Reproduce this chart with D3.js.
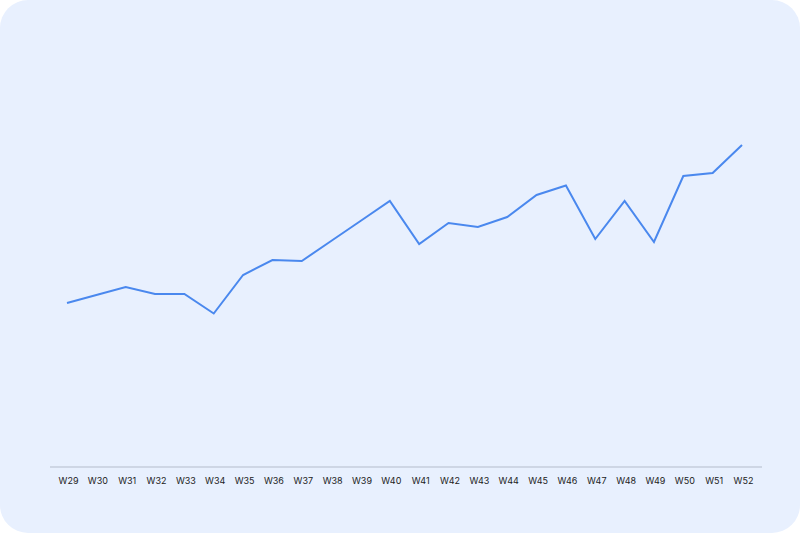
<!DOCTYPE html>
<html lang="en">
<head>
  <meta charset="utf-8">
  <title>weekly line</title>
  <style>
body {
  margin: 0;
  overflow: hidden;
  background-color: #fff;
  font-family: Inter, "Open Sans", sans-serif;
}
.tick text {
  font-size: 9px;
  fill: #222;
}
  </style>
  <script src="https://d3js.org/d3.v7.min.js" charset="utf-8"></script>
</head>
<body>
<section id="chart"></section>

<script>

var weeks = ['W29','W30','W31','W32','W33','W34','W35','W36','W37','W38','W39','W40',
             'W41','W42','W43','W44','W45','W46','W47','W48','W49','W50','W51','W52'];
var values = [82, 86, 90, 86.5, 86.5, 76.75, 96, 103.5, 103, 113, 123, 133,
              111.5, 122, 120, 125, 136, 140.75, 114, 133, 112.5, 145.5, 147, 161];

var w = 800;
var h = 533;

var svg = d3.select('#chart').append('svg')
  .attr('width', w)
  .attr('height', h);

// card background
svg.append('rect')
  .attr('x', 0)
  .attr('y', 0)
  .attr('width', w)
  .attr('height', h)
  .attr('rx', 28)
  .attr('fill', '#e8f0fe');

var x = d3.scalePoint()
  .domain(weeks)
  .range([67, 742]);

var y = d3.scaleLinear()
  .domain([0, 200])
  .range([467, 67]);

// baseline
svg.append('line')
  .attr('x1', 50)
  .attr('x2', 762)
  .attr('y1', y(0))
  .attr('y2', y(0))
  .attr('stroke', '#b4bccb')
  .attr('stroke-width', 1);

var xAxis = d3.axisBottom(x)
  .tickSize(0)
  .tickPadding(11);

svg.append('g')
  .attr('transform', 'translate(1,' + y(0) + ')')
  .call(xAxis)
  .call(function(g) { g.select('.domain').remove(); })
  .selectAll('text')
  .style('font-family', 'Inter, "Open Sans", sans-serif');

var line = d3.line()
  .x(function(d, i) { return x(weeks[i]); })
  .y(function(d) { return y(d); });

svg.append('path')
  .datum(values)
  .attr('d', line)
  .attr('fill', 'none')
  .attr('stroke', '#4a88ee')
  .attr('stroke-width', 2)
  .attr('stroke-linejoin', 'miter');

</script>
</body>
</html>
